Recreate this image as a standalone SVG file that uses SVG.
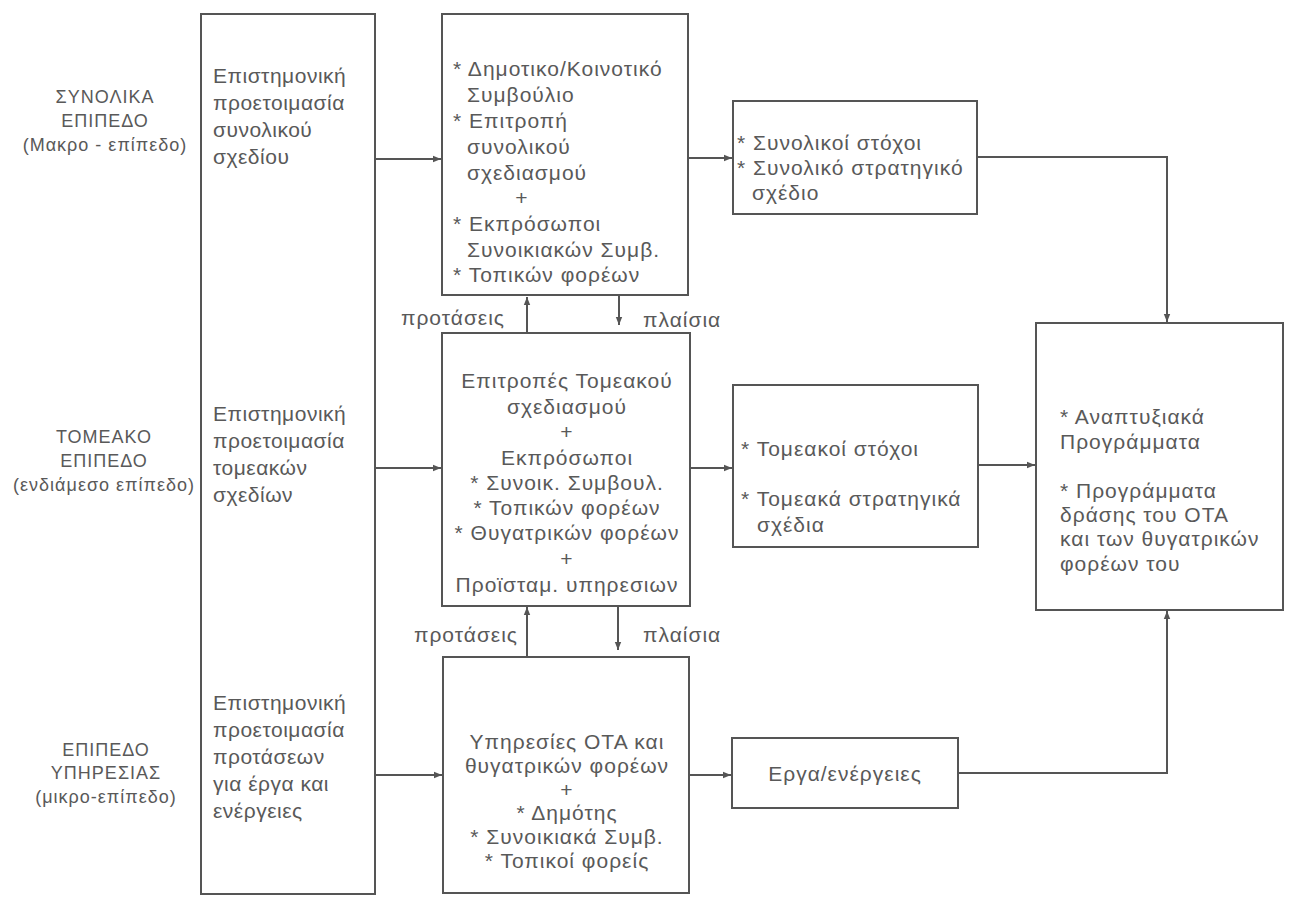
<svg xmlns="http://www.w3.org/2000/svg" width="1293" height="902" viewBox="0 0 1293 902">
<style>
.box{fill:#fff;stroke:#555;stroke-width:2}
.t{font-family:"Liberation Sans","DejaVu Sans",sans-serif;font-size:21px;letter-spacing:1px;fill:#595959;dominant-baseline:central}
.tl{font-family:"Liberation Sans","DejaVu Sans",sans-serif;font-size:18px;letter-spacing:1px;fill:#595959;dominant-baseline:central;text-anchor:middle}
.c{text-anchor:middle}
.big{letter-spacing:0.5px}
.ln{fill:none;stroke:#555;stroke-width:2}
</style>
<defs>
<marker id="ah" viewBox="0 0 10 10" refX="10" refY="5" markerWidth="8" markerHeight="8" markerUnits="userSpaceOnUse" orient="auto">
<path d="M0,1 L10,5 L0,9 Z" fill="#555"/>
</marker>
</defs>
<rect width="1293" height="902" fill="#fff"/>

<g id="levels">
<text class="tl" x="105" y="97">ΣΥΝΟΛΙΚΑ</text>
<text class="tl" x="105" y="121">ΕΠΙΠΕΔΟ</text>
<text class="tl" x="105" y="145">(Μακρο - επίπεδο)</text>
<text class="tl" x="104" y="437">ΤΟΜΕΑΚΟ</text>
<text class="tl" x="104" y="461">ΕΠΙΠΕΔΟ</text>
<text class="tl" x="104" y="485">(ενδιάμεσο επίπεδο)</text>
<text class="tl" x="106" y="750">ΕΠΙΠΕΔΟ</text>
<text class="tl" x="106" y="773">ΥΠΗΡΕΣΙΑΣ</text>
<text class="tl" x="106" y="797">(μικρο-επίπεδο)</text>
</g>

<g id="n-scientific">
<rect class="box" x="201" y="14" width="174" height="880"/>
<text class="t big" x="213" y="75">Επιστημονική</text>
<text class="t big" x="213" y="102">προετοιμασία</text>
<text class="t big" x="213" y="129">συνολικού</text>
<text class="t big" x="213" y="156">σχεδίου</text>
<text class="t big" x="213" y="413">Επιστημονική</text>
<text class="t big" x="213" y="440">προετοιμασία</text>
<text class="t big" x="213" y="467">τομεακών</text>
<text class="t big" x="213" y="494">σχεδίων</text>
<text class="t big" x="213" y="702">Επιστημονική</text>
<text class="t big" x="213" y="729">προετοιμασία</text>
<text class="t big" x="213" y="756">προτάσεων</text>
<text class="t big" x="213" y="783">για έργα και</text>
<text class="t big" x="213" y="810">ενέργειες</text>
</g>

<g id="n-council">
<rect class="box" x="442" y="14" width="246" height="281"/>
<text class="t" x="453" y="68">* Δημοτικο/Κοινοτικό</text>
<text class="t" x="467" y="94">Συμβούλιο</text>
<text class="t" x="453" y="120">* Επιτροπή</text>
<text class="t" x="467" y="146">συνολικού</text>
<text class="t" x="467" y="172">σχεδιασμού</text>
<text class="t c" x="522" y="197">+</text>
<text class="t" x="453" y="223">* Εκπρόσωποι</text>
<text class="t" x="467" y="249">Συνοικιακών Συμβ.</text>
<text class="t" x="453" y="274">* Τοπικών φορέων</text>
</g>

<g id="n-sector-committees">
<rect class="box" x="442" y="333" width="248" height="273"/>
<text class="t c" x="567" y="380">Επιτροπές Τομεακού</text>
<text class="t c" x="567" y="406">σχεδιασμού</text>
<text class="t c" x="567" y="431">+</text>
<text class="t c" x="567" y="457">Εκπρόσωποι</text>
<text class="t c" x="567" y="482">* Συνοικ. Συμβουλ.</text>
<text class="t c" x="567" y="507">* Τοπικών φορέων</text>
<text class="t c" x="567" y="532">* Θυγατρικών φορέων</text>
<text class="t c" x="567" y="558">+</text>
<text class="t c" x="567" y="584">Προϊσταμ. υπηρεσιων</text>
</g>

<g id="n-services">
<rect class="box" x="443" y="657" width="246" height="236"/>
<text class="t c" x="567" y="741">Υπηρεσίες ΟΤΑ και</text>
<text class="t c" x="567" y="765">θυγατρικών φορέων</text>
<text class="t c" x="567" y="789">+</text>
<text class="t c" x="567" y="812">* Δημότης</text>
<text class="t c" x="567" y="836">* Συνοικιακά Συμβ.</text>
<text class="t c" x="567" y="860">* Τοπικοί φορείς</text>
</g>

<g id="n-overall-goals">
<rect class="box" x="733" y="101" width="244" height="113"/>
<text class="t" x="737" y="142">* Συνολικοί στόχοι</text>
<text class="t" x="737" y="167">* Συνολικό στρατηγικό</text>
<text class="t" x="752" y="192">σχέδιο</text>
</g>

<g id="n-sector-goals">
<rect class="box" x="733" y="385" width="245" height="162"/>
<text class="t" x="741" y="448">* Τομεακοί στόχοι</text>
<text class="t" x="741" y="498">* Τομεακά στρατηγικά</text>
<text class="t" x="757" y="524">σχέδια</text>
</g>

<g id="n-works">
<rect class="box" x="732" y="738" width="226" height="70"/>
<text class="t c" x="845" y="773">Εργα/ενέργειες</text>
</g>

<g id="n-programmes">
<rect class="box" x="1036" y="323" width="247" height="287"/>
<text class="t" x="1060" y="416">* Αναπτυξιακά</text>
<text class="t" x="1060" y="441">Προγράμματα</text>
<text class="t" x="1060" y="490">* Προγράμματα</text>
<text class="t" x="1060" y="514">δράσης του ΟΤΑ</text>
<text class="t" x="1060" y="538">και των θυγατρικών</text>
<text class="t" x="1060" y="563">φορέων του</text>
</g>

<g id="connectors">
<line class="ln" x1="375" y1="159" x2="441" y2="159" marker-end="url(#ah)"/>
<line class="ln" x1="375" y1="468" x2="441" y2="468" marker-end="url(#ah)"/>
<line class="ln" x1="375" y1="775" x2="442" y2="775" marker-end="url(#ah)"/>
<line class="ln" x1="688" y1="158" x2="732" y2="158" marker-end="url(#ah)"/>
<line class="ln" x1="690" y1="468" x2="732" y2="468" marker-end="url(#ah)"/>
<line class="ln" x1="689" y1="775" x2="731" y2="775" marker-end="url(#ah)"/>
<polyline class="ln" points="977,157 1167,157 1167,322" marker-end="url(#ah)"/>
<line class="ln" x1="978" y1="465" x2="1035" y2="465" marker-end="url(#ah)"/>
<polyline class="ln" points="958,773 1167,773 1167,611" marker-end="url(#ah)"/>
<line class="ln" x1="527" y1="333" x2="527" y2="297" marker-end="url(#ah)"/>
<line class="ln" x1="619" y1="295" x2="619" y2="325" marker-end="url(#ah)"/>
<line class="ln" x1="527" y1="657" x2="527" y2="607" marker-end="url(#ah)"/>
<line class="ln" x1="618" y1="606" x2="618" y2="650" marker-end="url(#ah)"/>
<text class="t" x="505" y="317" text-anchor="end">προτάσεις</text>
<text class="t" x="643" y="319">πλαίσια</text>
<text class="t" x="518" y="634" text-anchor="end">προτάσεις</text>
<text class="t" x="643" y="634">πλαίσια</text>
</g>
</svg>
